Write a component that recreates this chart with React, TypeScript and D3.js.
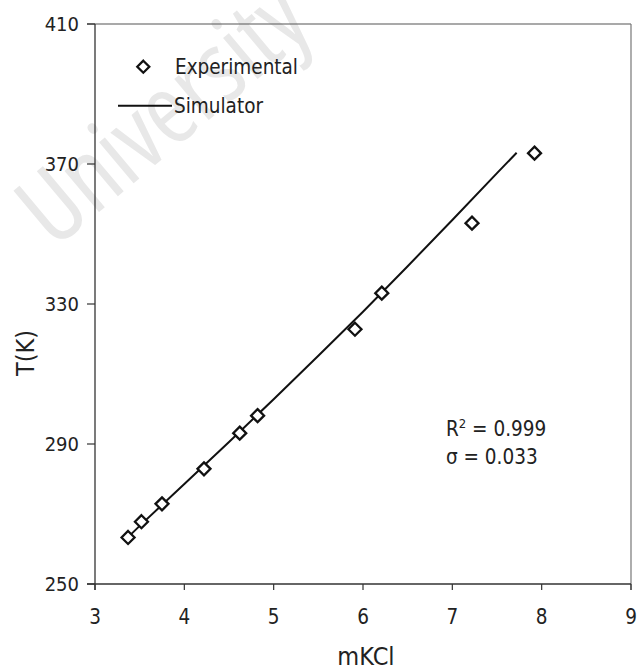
import React from "react";
import * as d3 from "d3";

// Axis ticks
const xTicks = [3, 4, 5, 6, 7, 8, 9];
const yTicks = [250, 290, 330, 370, 410];

// Experimental temperatures vs KCl molality
const expM = [3.37, 3.52, 3.75, 4.22, 4.62, 4.82, 5.91, 6.21, 7.22, 7.92];
const expT = [263.3, 267.8, 272.9, 282.9, 293.1, 298.1, 322.8, 333.1, 353.1, 373.1];

// Simulator curve
const simM = [3.33, 3.5, 4.0, 4.5, 5.0, 5.5, 6.0, 6.5, 7.0, 7.5, 7.72];
const simT = [262.4, 266.6, 278.6, 290.6, 302.8, 315.2, 327.8, 340.8, 354.0, 367.4, 373.2];

const W = 642;
const H = 671;
const FONT = "'DejaVu Sans Condensed', 'DejaVu Sans', sans-serif";

export default function App() {
  const x = d3.scaleLinear().domain([3, 9]).range([95, 631]);
  const y = d3.scaleLinear().domain([250, 410]).range([584, 24]);

  const simLine = d3
    .line<number>()
    .x((_, i) => x(simM[i]))
    .y((d) => y(d))(simT) as string;

  const diamond = (cx: number, cy: number, r: number) =>
    `M${cx},${cy - r}L${cx + r},${cy}L${cx},${cy + r}L${cx - r},${cy}Z`;

  const [x0, x1] = x.range();
  const [yb, yt] = y.range();

  return (
    <svg
      width={W}
      height={H}
      style={{ position: "fixed", left: 0, top: 0, display: "block", background: "#fff" }}
      fontFamily={FONT}
      fontStretch="condensed"
    >
      <rect width={W} height={H} fill="#fff" />

      {/* faint watermark */}
      <text
        x={0}
        y={0}
        fontSize={100}
        fill="#e8e8e8"
        textAnchor="middle"
        transform="translate(185 140) rotate(-40)"
        fontFamily="'Open Sans', 'DejaVu Sans', sans-serif"
      >
        University
      </text>

      {/* frame */}
      <line x1={x0 - 8} x2={x1} y1={yt} y2={yt} stroke="#555" strokeWidth={1.2} />
      <line x1={x1} x2={x1} y1={yt} y2={yb + 6} stroke="#777" strokeWidth={1.2} />
      <line x1={x0} x2={x0} y1={yt} y2={yb + 6} stroke="#333" strokeWidth={1.3} />
      <line x1={x0 - 8} x2={x1} y1={yb} y2={yb} stroke="#333" strokeWidth={1.3} />

      {/* y axis */}
      {yTicks.map((t) => (
        <g key={`y${t}`}>
          <line x1={x0 - 8} x2={x0} y1={y(t)} y2={y(t)} stroke="#333" strokeWidth={1.2} />
          <text x={x0 - 16} y={y(t)} dy="0.36em" textAnchor="end" fontSize={20} fill="#222">
            {t}
          </text>
        </g>
      ))}

      {/* x axis */}
      {xTicks.map((t) => (
        <g key={`x${t}`}>
          <line x1={x(t)} x2={x(t)} y1={yb} y2={yb + 6} stroke="#333" strokeWidth={1.2} />
          <text x={x(t)} y={624} textAnchor="middle" fontSize={20.5} fill="#222">
            {t}
          </text>
        </g>
      ))}

      {/* axis titles */}
      <text x={366} y={665} textAnchor="middle" fontSize={25} fill="#222">
        mKCl
      </text>
      <text
        x={0}
        y={0}
        textAnchor="middle"
        fontSize={25}
        fill="#222"
        transform="translate(34 353) rotate(-90)"
      >
        T(K)
      </text>

      {/* simulator curve */}
      <path d={simLine} fill="none" stroke="#111" strokeWidth={2} />

      {/* experimental points */}
      {expM.map((m, i) => (
        <path
          key={`p${i}`}
          d={diamond(x(m), y(expT[i]), 6.5)}
          fill="#fff"
          stroke="#111"
          strokeWidth={2.3}
        />
      ))}

      {/* legend */}
      <path d={diamond(143.3, 66.7, 6)} fill="#fff" stroke="#111" strokeWidth={2.3} />
      <text x={175} y={73.5} fontSize={20.5} fill="#222">
        Experimental
      </text>
      <line x1={118} x2={172} y1={105.7} y2={105.7} stroke="#111" strokeWidth={2} />
      <text x={174} y={113} fontSize={20.5} fill="#222">
        Simulator
      </text>

      {/* fit statistics */}
      <text x={446} y={436} fontSize={20.5} fill="#222">
        R<tspan dy={-8} fontSize={13}>2</tspan>
        <tspan dy={8}> = 0.999</tspan>
      </text>
      <text x={446} y={463.5} fontSize={20.5} fill="#222">
        σ = 0.033
      </text>
    </svg>
  );
}
